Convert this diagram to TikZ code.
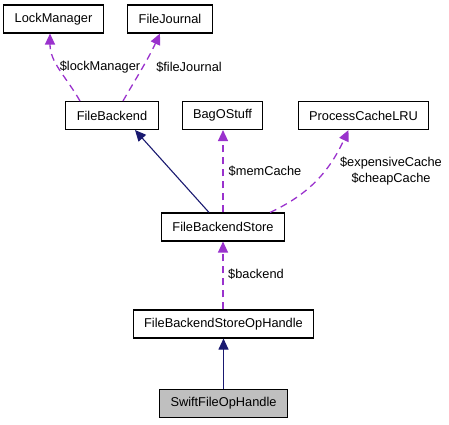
\documentclass[tikz,border=0pt]{standalone}
\usepackage{fontspec}
\setmainfont{Liberation Sans}
\usepackage{tikz}
\usetikzlibrary{arrows.meta,positioning}

\definecolor{usecol}{HTML}{9A32CD}
\definecolor{inhcol}{HTML}{191970}
\definecolor{selcol}{HTML}{BFBFBF}

\begin{document}
\begin{tikzpicture}[x=1pt,y=-1pt,line width=1pt,font=\fontsize{12.8}{15.5}\selectfont]
\tikzstyle{cls} = [draw, shape=rectangle, minimum height=28pt, inner xsep=11pt, line width=1.1pt]
\tikzstyle{uses} = [draw=usecol, dashed, dash pattern=on 7pt off 5pt, line width=1.3pt, -{Triangle[length=11pt,width=10pt,fill=usecol]}]
\tikzstyle{inherit} = [draw=inhcol, line width=1.1pt, -{Triangle[length=11pt,width=10pt,fill=inhcol]}]
\tikzstyle{lbl} = [inner sep=1pt, align=center]

\useasboundingbox (0,0) rectangle (449,424);

% Classes
\node [cls] at (53.5,19) (lm) {LockManager};
\node [cls] at (170,19) (fj) {FileJournal};
\node [cls] at (112,115.5) (fb) {FileBackend};
\node [cls] at (222.5,115.5) (bag) {BagOStuff};
\node [cls] at (363.5,115.5) (pcl) {ProcessCacheLRU};
\node [cls] at (223,227) (fbs) {FileBackendStore};
\node [cls] at (223.5,324) (fbsop) {FileBackendStoreOpHandle};
\node [cls, fill=selcol] at (223.5,403.5) (swift) {SwiftFileOpHandle};

% Members of FileBackend
\draw[uses] ([xshift=-32pt]fb.north) to[out=120,in=-90] ([xshift=-3.5pt]lm.south);
\node [lbl] at (100,67) (lmlbl) {\$lockManager};
\draw[uses] ([xshift=11pt]fb.north) to[out=60,in=-115] ([xshift=-10pt]fj.south);
\node [lbl] at (189,67) (fjlbl) {\$fileJournal};

% FileBackendStore
\draw[inherit] ([xshift=-14pt]fbs.north) -- ([xshift=23pt]fb.south);
\draw[uses] (fbs.north) -- (fbs.north |- bag.south);
\node [lbl] at (265,171) (baglbl) {\$memCache};
\draw[uses] ([xshift=47pt]fbs.north) to[out=25,in=-115] ([xshift=-15pt]pcl.south);
\node [lbl] at (391,171) (pcllbl) {\$expensiveCache\\\$cheapCache};

% Op handles
\draw[uses] (fbsop.north -| fbs.south) -- (fbs.south);
\node [lbl] at (256,274) (fbslbl) {\$backend};
\draw[inherit] (swift.north) -- (fbsop.south);

\end{tikzpicture}
\end{document}
